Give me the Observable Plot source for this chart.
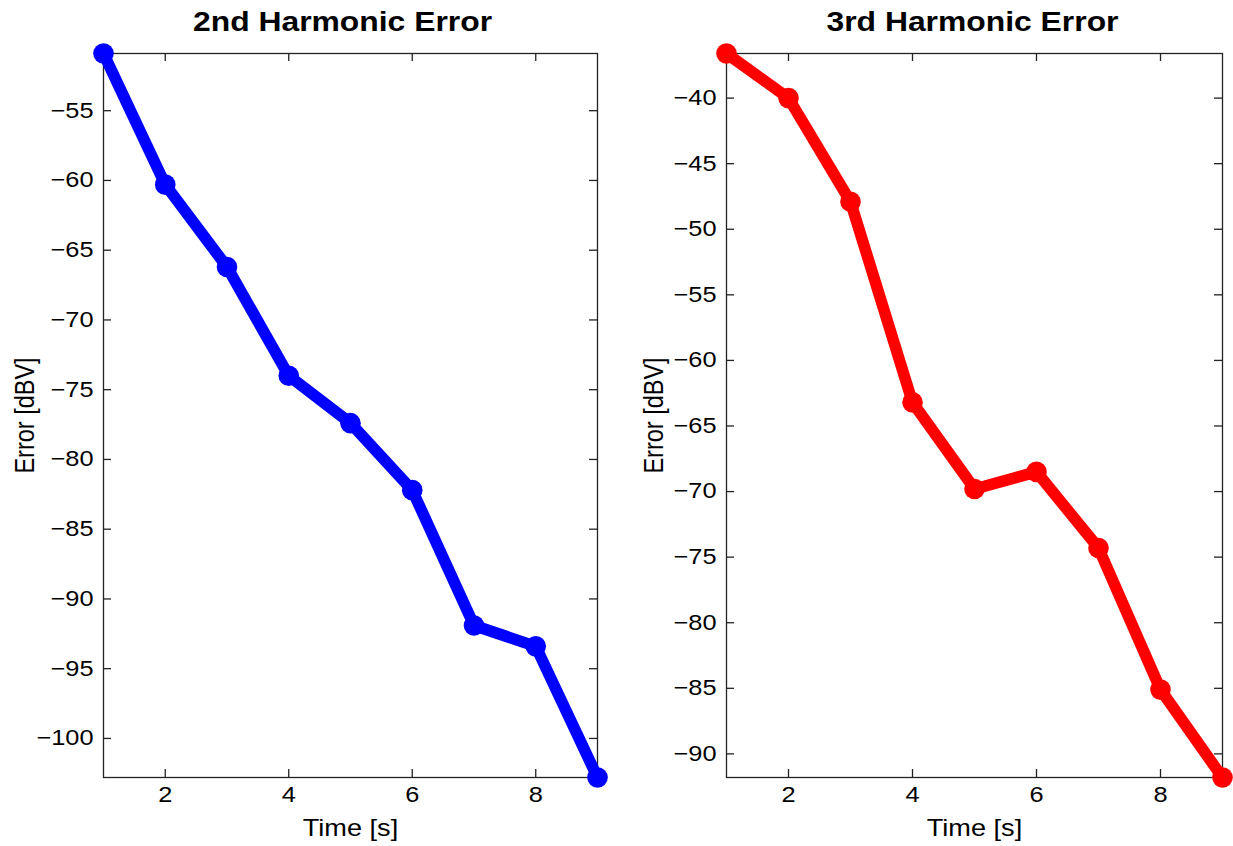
<!DOCTYPE html>
<html>
<head>
<meta charset="utf-8">
<script src="https://cdn.jsdelivr.net/npm/d3@7"></script>
<script src="https://cdn.jsdelivr.net/npm/@observablehq/plot@0.6"></script>
<style>
  html, body { margin: 0; padding: 0; background: #fff; }
  #figure { position: relative; width: 1233px; height: 846px; overflow: hidden; background: #fff; }
  #figure svg { position: absolute; top: 0; }
</style>
</head>
<body>
<div id="figure"></div>
<script>
// Measurement times and harmonic error levels
const time = [1, 2, 3, 4, 5, 6, 7, 8, 9];
const secondHarmonic = [-50.9, -60.3, -66.2, -74.0, -77.4, -82.2, -91.9, -93.4, -102.8];
const thirdHarmonic = [-36.6, -40.0, -47.9, -63.2, -69.8, -68.5, -74.3, -85.1, -91.8];

// Tick positions
const timeTicks = [2, 4, 6, 8];
const secondTicks = [-55, -60, -65, -70, -75, -80, -85, -90, -95, -100];
const thirdTicks = [-40, -45, -50, -55, -60, -65, -70, -75, -80, -85, -90];

// Labels
const titles = ["2nd Harmonic Error", "3rd Harmonic Error"];
const xLabel = "Time [s]";
const yLabel = "Error [dBV]";

const FONT = "'Liberation Sans', Arial, Helvetica, sans-serif";
const AXIS = "#222";
const TICK = 8;
const H = 846, MT = 53, MB = 69;
const WIDE = 1.18; // horizontal widening of the lettering

function panel({left, width, marginLeft, marginRight, values, yTicks, color, title, titleDx, yLabelDx}) {
  const data = time.map((t, i) => ({t, v: values[i]}));
  const fw = width - marginLeft - marginRight;
  const fh = H - MT - MB;
  const svg = Plot.plot({
    width, height: H,
    marginLeft, marginRight, marginTop: MT, marginBottom: MB,
    style: {fontFamily: FONT, fontSize: "21.5px", color: "#000", background: "#fff", overflow: "visible"},
    x: {domain: [1, 9]},
    y: {domain: d3.extent(values)},
    marks: [
      Plot.frame({stroke: AXIS, strokeWidth: 1.3}),
      // inward ticks on all four sides
      Plot.tickX(timeTicks, {x: d => d, insetBottom: fh - TICK, stroke: AXIS, strokeWidth: 1.3}),
      Plot.tickX(timeTicks, {x: d => d, insetTop: fh - TICK, stroke: AXIS, strokeWidth: 1.3}),
      Plot.tickY(yTicks, {y: d => d, insetRight: fw - TICK, stroke: AXIS, strokeWidth: 1.3}),
      Plot.tickY(yTicks, {y: d => d, insetLeft: fw - TICK, stroke: AXIS, strokeWidth: 1.3}),
      Plot.axisX({ticks: timeTicks, tickSize: 0, tickPadding: 9, tickFormat: d3.format("d"), label: null, fill: "#000"}),
      Plot.axisY({ticks: yTicks, tickSize: 0, tickPadding: 10, tickFormat: d3.format("d"), label: null, fill: "#000"}),
      Plot.line(data, {x: "t", y: "v", stroke: color, strokeWidth: 11.5, strokeLinejoin: "round", strokeLinecap: "round"}),
      Plot.dot(data, {x: "t", y: "v", r: 10.3, fill: color, stroke: null}),
      Plot.text([title], {text: d => d, frameAnchor: "top", textAnchor: "middle", dx: titleDx, dy: -23, lineAnchor: "bottom", fontSize: 27, fontWeight: "bold", fill: "#000"}),
      Plot.text([xLabel], {text: d => d, frameAnchor: "bottom", textAnchor: "middle", dy: 58, lineAnchor: "bottom", fontSize: 23, fill: "#000"}),
      Plot.text([yLabel], {text: d => d, frameAnchor: "left", textAnchor: "middle", lineAnchor: "middle", dx: yLabelDx, rotate: -90, fontSize: 23.5, fill: "#000"})
    ]
  });
  // widen every label about its own anchor point
  for (const t of svg.querySelectorAll("text")) {
    const tr = t.getAttribute("transform");
    if (!tr) continue;
    t.setAttribute("transform", tr + (tr.includes("rotate") ? ` scale(1,${WIDE})` : ` scale(${WIDE},1)`));
  }
  svg.style.left = left + "px";
  document.getElementById("figure").appendChild(svg);
}

panel({left: 0, width: 616, marginLeft: 103, marginRight: 19,
  values: secondHarmonic, yTicks: secondTicks, color: "#0000ff", title: titles[0], titleDx: -8, yLabelDx: -78});
panel({left: 616, width: 617, marginLeft: 110, marginRight: 11,
  values: thirdHarmonic, yTicks: thirdTicks, color: "#ff0000", title: titles[1], titleDx: -2, yLabelDx: -72});
</script>
</body>
</html>
